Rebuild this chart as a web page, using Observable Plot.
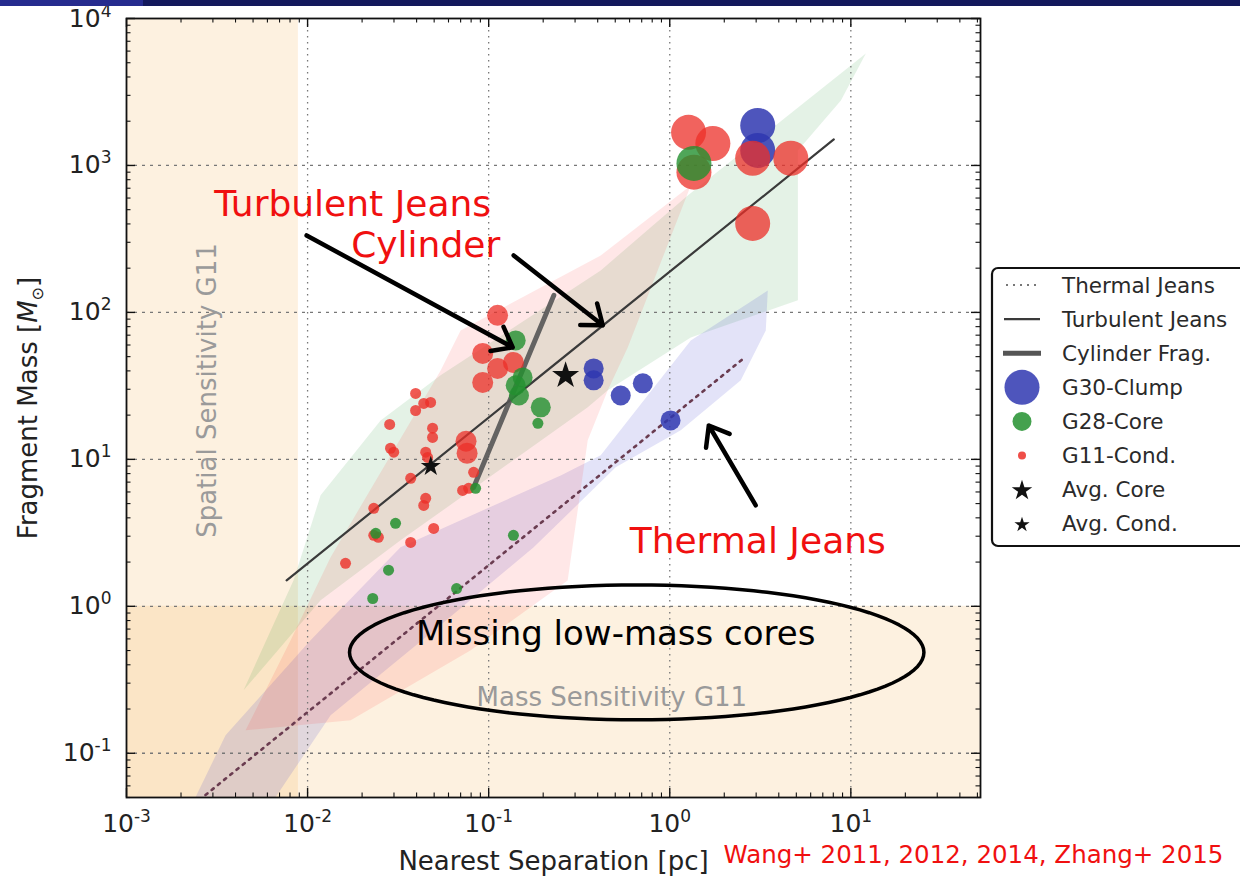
<!DOCTYPE html>
<html>
<head>
<meta charset="utf-8">
<script src="https://cdn.jsdelivr.net/npm/d3@7"></script>
<script src="https://cdn.jsdelivr.net/npm/@observablehq/plot@0.6"></script>
<style>
  html, body { margin:0; padding:0; background:#fff; }
  #wrap { position:relative; width:1240px; height:879px; overflow:hidden; background:#fff; }
  #bar { position:absolute; left:0; top:0; width:1240px; height:6px; background:#13185c; z-index:5; }
  #bar2 { position:absolute; left:0; top:0; width:143px; height:6px; background:#262b8e; z-index:6; }
  #chart svg { display:block; }
</style>
</head>
<body>
<div id="wrap"><div id="chart"></div><div id="bar"></div><div id="bar2"></div></div>
<script>
// ---------------- data (separation in pc, mass in Msun) ----------------
const xTicks = [1e-3, 1e-2, 1e-1, 1, 10];
const yTicks = [1e-1, 1, 10, 100, 1000, 10000];
const xDomain = [1e-3, 52];
const yDomain = [0.05, 1e4];

// sensitivity limits
const spatialLimitSep = [1e-3, 0.0089];
const massLimitMass = [0.05, 1.0];

// shaded model ranges (polygon outlines)
const greenBandSep  = [0.00443, 0.00837, 0.0118, 0.0253, 0.0543, 0.4157, 1.257, 12.1, 8.81, 5.10, 5.10, 1.306, 0.4545, 0.3524, 0.0326, 0.0118];
const greenBandMass = [0.268, 1.503, 5.69, 18.4, 37.3, 193, 625, 5780, 2767, 1265, 121, 67.6, 29.5, 22.6, 2.81, 1.098];
const pinkBandSep   = [0.004545, 0.00806, 0.0134, 0.0543, 0.0700, 0.4157, 1.306, 0.816, 0.586, 0.4545, 0.3524, 0.273, 0.0796, 0.0173];
const pinkBandMass  = [0.1434, 0.587, 2.154, 40.3, 75.4, 244, 731, 165, 57.8, 29.5, 13.5, 1.50, 0.502, 0.168];
const blueBandSep   = [0.002405, 0.003524, 0.01039, 0.0326, 0.250, 0.4157, 1.306, 3.478, 3.391, 2.468, 1.150, 0.5027, 0.1772, 0.0478, 0.0134, 0.00665];
const blueBandMass  = [0.0502, 0.1326, 0.587, 2.52, 7.78, 10.65, 64.5, 141, 75.4, 34.5, 15.75, 8.82, 2.52, 0.655, 0.1814, 0.0502];

// model lines
const thermalSep = [0.00273, 2.63],  thermalMass = [0.052, 50];
const turbSep    = [0.00766, 8.05],  turbMass    = [1.50, 1503];
const cylSep     = [0.0826, 0.229],  cylMass     = [6.45, 130.6];

// clumps (largest symbols)
const g11ClumpSep = [1.27, 1.73, 1.36, 2.87, 4.66, 2.87], g11ClumpMass = [1680, 1410, 900, 1120, 1120, 403];
const g28ClumpSep = [1.36], g28ClumpMass = [1032];
const g30ClumpSep = [3.06, 3.06], g30ClumpMass = [1871, 1265];

// cores (medium symbols)
const g11CoreSep = [0.112, 0.0927, 0.137, 0.112, 0.0927, 0.075, 0.076];
const g11CoreMass = [95.5, 52.6, 45.7, 41.6, 33.4, 13.3, 11.0];
const g28CoreSep = [0.141, 0.154, 0.141, 0.147, 0.194];
const g28CoreMass = [64.5, 36.1, 31.9, 27.2, 22.6];
const g30CoreSep = [0.38, 0.38, 0.536, 0.71, 1.01];
const g30CoreMass = [41.6, 34.5, 27.2, 32.9, 18.4];

// condensations (small symbols)
const g11CondSep = [0.0395, 0.0438, 0.0478, 0.0395, 0.0284, 0.0490, 0.0490, 0.0287, 0.0299, 0.0449, 0.0460, 0.0826, 0.0371, 0.0718, 0.0775, 0.0232, 0.0449, 0.0438, 0.0232, 0.0246, 0.0497, 0.0371, 0.0162];
const g11CondMass = [28.1, 24.0, 24.4, 21.5, 17.3, 16.3, 14.1, 11.9, 11.2, 11.2, 10.3, 8.16, 7.43, 6.15, 6.35, 4.64, 5.43, 4.86, 3.04, 2.95, 3.39, 2.72, 1.96];
const g28CondSep = [0.187, 0.0847, 0.0306, 0.0238, 0.0280, 0.137, 0.0665, 0.0229];
const g28CondMass = [17.6, 6.35, 3.67, 3.14, 1.76, 3.04, 1.32, 1.13];

// averages
const avgCoreSep = [0.266], avgCoreMass = [37.2];
const avgCondSep = [0.0479], avgCondMass = [8.96];

// annotations
const labelTexts = ["Turbulent Jeans", "Cylinder", "Thermal Jeans"];
const labelSep   = [0.01774, 0.0449, 3.06];
const labelMass  = [543, 286, 2.77];
const arrowFromSep = [0.00988, 0.1374, 2.985], arrowFromMass = [334, 244, 4.86];
const arrowToSep   = [0.1357, 0.4266, 1.643],  arrowToMass   = [57.8, 81.7, 17.0];
const missingText = "Missing low-mass cores", missingSep = 0.503, missingMass = 0.646;
const massSensText = "Mass Sensitivity G11", massSensSep = 0.479, massSensMass = 0.240;
const spatSensText = "Spatial Sensitivity G11", spatSensSep = 0.0028, spatSensMass = 29.4;
const ellipseCenterSep = 0.657, ellipseCenterMass = 0.486, ellipseHalfDecades = [1.586, 0.459];
const footerText = "Wang+ 2011, 2012, 2014, Zhang+ 2015";
const legendLabels = ["Thermal Jeans", "Turbulent Jeans", "Cylinder Frag.", "G30-Clump", "G28-Core", "G11-Cond.", "Avg. Core", "Avg. Cond."];

// ---------------- helpers ----------------
const pts = (xs, ys) => xs.map((x, i) => ({x, y: ys[i]}));
const RED = "#ec2f28", GREEN = "#23902f", BLUE = "#2f37b0", ANN = "#f01010";
const ORANGE = "#f0aa3c";
const PH = 879 - 18 - 82, PW = 1240 - 126 - 260;

const xMinor = [], yMinor = [];
for (let k = -3; k <= 1; k++) for (let m = 2; m <= 9; m++) { const v = m * 10 ** k; if (v <= xDomain[1]) xMinor.push(v); }
for (let k = -2; k <= 3; k++) for (let m = 2; m <= 9; m++) { const v = m * 10 ** k; if (v >= yDomain[0] && v <= yDomain[1]) yMinor.push(v); }
const fmt = d => "10^" + Math.round(Math.log10(d));

const ellipse = [];
for (let i = 0; i < 120; i++) {
  const t = i / 120 * 2 * Math.PI;
  ellipse.push({x: ellipseCenterSep * 10 ** (ellipseHalfDecades[0] * Math.cos(t)), y: ellipseCenterMass * 10 ** (ellipseHalfDecades[1] * Math.sin(t))});
}

const annotations = labelTexts.map((t, i) => ({t, x: labelSep[i], y: labelMass[i]}));
const arrows = arrowFromSep.map((x, i) => ({x1: x, y1: arrowFromMass[i], x2: arrowToSep[i], y2: arrowToMass[i]}));

const dots = (xs, ys, fill, r, op) => Plot.dot(pts(xs, ys), {x: "x", y: "y", r, fill, fillOpacity: op, stroke: "none"});

const chart = Plot.plot({
  width: 1240, height: 879,
  marginLeft: 126, marginRight: 260, marginTop: 18, marginBottom: 82,
  style: {fontFamily: "DejaVu Sans, sans-serif", background: "transparent", color: "#222", overflow: "visible"},
  x: {type: "log", domain: xDomain},
  y: {type: "log", domain: yDomain},
  marks: [
    // sensitivity limits
    Plot.rect([{x1: spatialLimitSep[0], x2: spatialLimitSep[1], y1: yDomain[0], y2: yDomain[1]}], {x1: "x1", x2: "x2", y1: "y1", y2: "y2", fill: ORANGE, fillOpacity: 0.16}),
    Plot.rect([{x1: xDomain[0], x2: xDomain[1], y1: massLimitMass[0], y2: massLimitMass[1]}], {x1: "x1", x2: "x2", y1: "y1", y2: "y2", fill: ORANGE, fillOpacity: 0.16}),
    // model bands
    Plot.line(pts(greenBandSep, greenBandMass), {x: "x", y: "y", curve: "linear-closed", fill: "#2e9e3e", fillOpacity: 0.13, stroke: "none"}),
    Plot.line(pts(blueBandSep, blueBandMass), {x: "x", y: "y", curve: "linear-closed", fill: "#3838d0", fillOpacity: 0.14, stroke: "none"}),
    Plot.line(pts(pinkBandSep, pinkBandMass), {x: "x", y: "y", curve: "linear-closed", fill: "#ff2020", fillOpacity: 0.11, stroke: "none"}),
    // grid
    Plot.gridX({ticks: xTicks.slice(1), stroke: "#777", strokeOpacity: 1, strokeWidth: 1.3, strokeDasharray: "1.5,4.5"}),
    Plot.gridY({ticks: yTicks.slice(0, -1), stroke: "#777", strokeOpacity: 1, strokeWidth: 1.3, strokeDasharray: "3,5"}),
    // model lines
    Plot.line(pts(thermalSep, thermalMass), {x: "x", y: "y", stroke: "#6a3c50", strokeWidth: 2.6, strokeDasharray: "2.5,5.5"}),
    Plot.line(pts(turbSep, turbMass), {x: "x", y: "y", stroke: "#3a3a3a", strokeWidth: 2.2}),
    Plot.line(pts(cylSep, cylMass), {x: "x", y: "y", stroke: "#555", strokeWidth: 5, strokeOpacity: 0.9}),
    // data points
    dots(g30ClumpSep, g30ClumpMass, BLUE, 17.5, 0.85),
    dots(g30CoreSep, g30CoreMass, BLUE, 10, 0.85),
    dots(g11ClumpSep, g11ClumpMass, RED, 17.5, 0.75),
    dots(g11CoreSep, g11CoreMass, RED, 10.5, 0.75),
    dots(g11CondSep, g11CondMass, RED, 5.5, 0.8),
    dots(g28ClumpSep, g28ClumpMass, GREEN, 17.5, 0.8),
    dots(g28CoreSep, g28CoreMass, GREEN, 10, 0.8),
    dots(g28CondSep, g28CondMass, GREEN, 5.5, 0.85),
    Plot.dot(pts(avgCoreSep, avgCoreMass), {x: "x", y: "y", symbol: "star", r: 8.5, fill: "#111", stroke: "none"}),
    Plot.dot(pts(avgCondSep, avgCondMass), {x: "x", y: "y", symbol: "star", r: 6.3, fill: "#111", stroke: "none"}),
    // annotations
    Plot.text([spatSensText], {x: spatSensSep, y: spatSensMass, text: d => d, rotate: -90, fontSize: 26, fill: "#9a9a9a"}),
    Plot.text([massSensText], {x: massSensSep, y: massSensMass, text: d => d, fontSize: 26, fill: "#9a9a9a"}),
    Plot.line(ellipse, {x: "x", y: "y", curve: "linear-closed", stroke: "#000", strokeWidth: 3.5, fill: "none"}),
    Plot.text([missingText], {x: missingSep, y: missingMass, text: d => d, fontSize: 34, fill: "#000"}),
    Plot.arrow(arrows, {x1: "x1", y1: "y1", x2: "x2", y2: "y2", stroke: "#000", strokeWidth: 4.5, headLength: 7.5, headAngle: 75}),
    Plot.text(annotations, {x: "x", y: "y", text: "t", fontSize: 36, fill: ANN}),
    // frame & ticks
    Plot.frame({stroke: "#111", strokeWidth: 1.8}),
    Plot.tickX(xTicks, {x: d => d, stroke: "#111", strokeWidth: 1.4, insetTop: PH - 9}),
    Plot.tickX(xTicks, {x: d => d, stroke: "#111", strokeWidth: 1.4, insetBottom: PH - 9}),
    Plot.tickX(xMinor, {x: d => d, stroke: "#111", strokeWidth: 1.1, insetTop: PH - 4.5}),
    Plot.tickX(xMinor, {x: d => d, stroke: "#111", strokeWidth: 1.1, insetBottom: PH - 4.5}),
    Plot.tickY(yTicks, {y: d => d, stroke: "#111", strokeWidth: 1.4, insetRight: PW - 9}),
    Plot.tickY(yTicks, {y: d => d, stroke: "#111", strokeWidth: 1.4, insetLeft: PW - 9}),
    Plot.tickY(yMinor, {y: d => d, stroke: "#111", strokeWidth: 1.1, insetRight: PW - 4.5}),
    Plot.tickY(yMinor, {y: d => d, stroke: "#111", strokeWidth: 1.1, insetLeft: PW - 4.5}),
    Plot.axisX({ticks: xTicks, tickSize: 0, tickPadding: 17, fontSize: 25, tickFormat: fmt, label: null, anchor: "bottom"}),
    Plot.axisY({ticks: yTicks, tickSize: 0, tickPadding: 15, fontSize: 25, tickFormat: fmt, label: null, anchor: "left"}),
    Plot.text(["Nearest Separation [pc]"], {frameAnchor: "bottom", dy: 64, lineAnchor: "middle", textAnchor: "middle", text: d => d, fontSize: 26, fill: "#222"}),
    Plot.text(["Fragment Mass [M⊙]"], {frameAnchor: "left", dx: -98, rotate: -90, lineAnchor: "middle", textAnchor: "middle", text: d => d, fontSize: 26, fill: "#222"}),
    Plot.text([footerText], {frameAnchor: "bottom-left", dx: 597, dy: 58, lineAnchor: "middle", textAnchor: "start", text: d => d, fontSize: 24.5, fill: ANN})
  ]
});

document.getElementById("chart").appendChild(chart);

// superscripts for tick labels, italic M with subscript sun for the y label
chart.querySelectorAll("text").forEach(t => {
  const s = t.textContent;
  if (/^10\^-?\d$/.test(s)) {
    const [b, e] = s.split("^");
    t.textContent = "";
    const a = document.createElementNS("http://www.w3.org/2000/svg", "tspan"); a.textContent = b; t.appendChild(a);
    const c = document.createElementNS("http://www.w3.org/2000/svg", "tspan"); c.textContent = e;
    c.setAttribute("font-size", "17"); c.setAttribute("dy", "-10"); t.appendChild(c);
  } else if (s === "Fragment Mass [M⊙]") {
    t.textContent = "";
    const parts = [["Fragment Mass [", {}], ["M", {"font-style": "italic"}], ["⊙", {"font-size": "16", dy: "6"}], ["]", {dy: "-6"}]];
    for (const [txt, attrs] of parts) {
      const sp = document.createElementNS("http://www.w3.org/2000/svg", "tspan");
      sp.textContent = txt;
      for (const k in attrs) sp.setAttribute(k, attrs[k]);
      t.appendChild(sp);
    }
  }
});

// legend
const svg = d3.select(chart);
const lg = svg.append("g").attr("font-family", "DejaVu Sans, sans-serif").attr("text-anchor", "start");
lg.append("rect").attr("x", 992).attr("y", 268).attr("width", 270).attr("height", 278).attr("rx", 6)
  .attr("fill", "#fff").attr("stroke", "#111").attr("stroke-width", 2.2);
const rowY = i => 285 + i * 34.1;
const hx = 1022;
legendLabels.forEach((lab, i) => {
  const y = rowY(i);
  if (i === 0) lg.append("line").attr("x1", 1006).attr("x2", 1040).attr("y1", y).attr("y2", y).attr("stroke", "#777").attr("stroke-width", 2).attr("stroke-dasharray", "2,5");
  if (i === 1) lg.append("line").attr("x1", 1004).attr("x2", 1040).attr("y1", y).attr("y2", y).attr("stroke", "#3a3a3a").attr("stroke-width", 2.2);
  if (i === 2) lg.append("line").attr("x1", 1003).attr("x2", 1041).attr("y1", y).attr("y2", y).attr("stroke", "#555").attr("stroke-width", 5);
  if (i === 3) lg.append("circle").attr("cx", hx).attr("cy", y).attr("r", 17.5).attr("fill", BLUE).attr("fill-opacity", 0.85);
  if (i === 4) lg.append("circle").attr("cx", hx).attr("cy", y).attr("r", 9.5).attr("fill", GREEN).attr("fill-opacity", 0.85);
  if (i === 5) lg.append("circle").attr("cx", hx).attr("cy", y).attr("r", 4).attr("fill", RED).attr("fill-opacity", 0.85);
  if (i === 6) lg.append("path").attr("transform", `translate(${hx},${y + 1})`).attr("d", d3.symbol(d3.symbolStar, 130)()).attr("fill", "#111");
  if (i === 7) lg.append("path").attr("transform", `translate(${hx},${y + 1})`).attr("d", d3.symbol(d3.symbolStar, 72)()).attr("fill", "#111");
  lg.append("text").attr("x", 1062).attr("y", y).attr("dy", "0.35em").attr("font-size", 21.5).attr("fill", "#2a2a2a").attr("text-anchor", "start").text(lab);
});
</script>
</body>
</html>
